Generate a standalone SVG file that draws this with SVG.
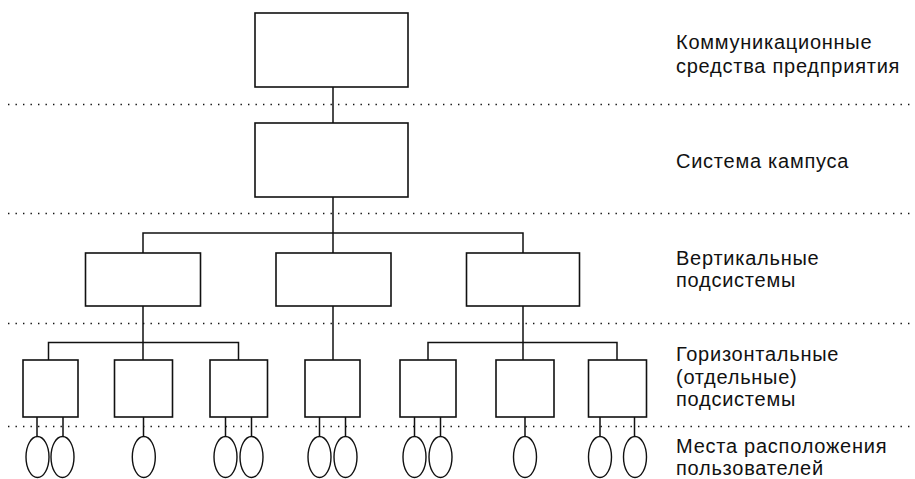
<svg xmlns="http://www.w3.org/2000/svg" width="915" height="479" viewBox="0 0 915 479">
<style>
.box{fill:#fff;stroke:#111;stroke-width:1.6}
.ell{fill:#fff;stroke:#111;stroke-width:1.4}
.ln{fill:none;stroke:#111;stroke-width:1.5}
.dot{fill:none;stroke:#111;stroke-width:1.5;stroke-dasharray:1.4 6.1}
.lbl{font-family:"Liberation Sans",Arial,sans-serif;font-size:20px;letter-spacing:0.75px;fill:#111}
</style>
<rect width="915" height="479" fill="#fff"/>
<g id="levels">
<line class="dot" x1="8" y1="104.5" x2="910" y2="104.5"/>
<line class="dot" x1="8" y1="213.5" x2="910" y2="213.5"/>
<line class="dot" x1="8" y1="323.5" x2="910" y2="323.5"/>
<line class="dot" x1="8" y1="426.5" x2="910" y2="426.5"/>
</g>
<g id="connectors">
<path class="ln" d="M333 87V123M333 197V253M143 253V233H523V253"/>
<path class="ln" d="M143 306V360M48.5 360V342.5H238.5V360"/>
<path class="ln" d="M333 306V360"/>
<path class="ln" d="M523 306V360M428 360V342.5H617V360"/>
<path class="ln" d="M37 417V437M63 417V437M143.5 417V437M225.5 417V437M251.5 417V437M319.5 417V437M345.5 417V437M414.5 417V437M440.5 417V437M525 417V437M600 417V437M634.5 417V437"/>
</g>
<g id="enterprise"><rect class="box" x="255" y="13" width="153" height="74"/></g>
<g id="campus"><rect class="box" x="255" y="123" width="153" height="74"/></g>
<g id="vert1"><rect class="box" x="85.5" y="253" width="115" height="53"/></g>
<g id="vert2"><rect class="box" x="276" y="253" width="115" height="53"/></g>
<g id="vert3"><rect class="box" x="466.5" y="253" width="113" height="53"/></g>
<g id="hor1"><rect class="box" x="23" y="360" width="55" height="57"/></g>
<g id="hor2"><rect class="box" x="114.5" y="360" width="58" height="57"/></g>
<g id="hor3"><rect class="box" x="210" y="360" width="57.5" height="57"/></g>
<g id="hor4"><rect class="box" x="305" y="360" width="55" height="57"/></g>
<g id="hor5"><rect class="box" x="400" y="360" width="56" height="57"/></g>
<g id="hor6"><rect class="box" x="496" y="360" width="58" height="57"/></g>
<g id="hor7"><rect class="box" x="588.5" y="360" width="58" height="57"/></g>
<g id="users">
<ellipse class="ell" cx="37.5" cy="457" rx="11.5" ry="20.5"/>
<ellipse class="ell" cx="62.5" cy="457" rx="11.5" ry="20.5"/>
<ellipse class="ell" cx="143.8" cy="457" rx="11.5" ry="20.5"/>
<ellipse class="ell" cx="225.5" cy="457" rx="11.5" ry="20.5"/>
<ellipse class="ell" cx="251.5" cy="457" rx="11.5" ry="20.5"/>
<ellipse class="ell" cx="319.5" cy="457" rx="11.5" ry="20.5"/>
<ellipse class="ell" cx="345.5" cy="457" rx="11.5" ry="20.5"/>
<ellipse class="ell" cx="414.5" cy="457" rx="11.5" ry="20.5"/>
<ellipse class="ell" cx="440.5" cy="457" rx="11.5" ry="20.5"/>
<ellipse class="ell" cx="525" cy="457" rx="11.5" ry="20.5"/>
<ellipse class="ell" cx="600" cy="457" rx="11.5" ry="20.5"/>
<ellipse class="ell" cx="635" cy="457" rx="11.5" ry="20.5"/>
</g>
<g id="labels">
<text class="lbl" x="676" y="49">Коммуникационные</text>
<text class="lbl" x="676" y="72.5">средства предприятия</text>
<text class="lbl" x="676" y="167.5">Система кампуса</text>
<text class="lbl" x="676" y="264.5">Вертикальные</text>
<text class="lbl" x="676" y="287">подсистемы</text>
<text class="lbl" x="676" y="361">Горизонтальные</text>
<text class="lbl" x="676" y="383.5">(отдельные)</text>
<text class="lbl" x="676" y="405.5">подсистемы</text>
<text class="lbl" x="676" y="453">Места расположения</text>
<text class="lbl" x="676" y="475">пользователей</text>
</g>
</svg>
